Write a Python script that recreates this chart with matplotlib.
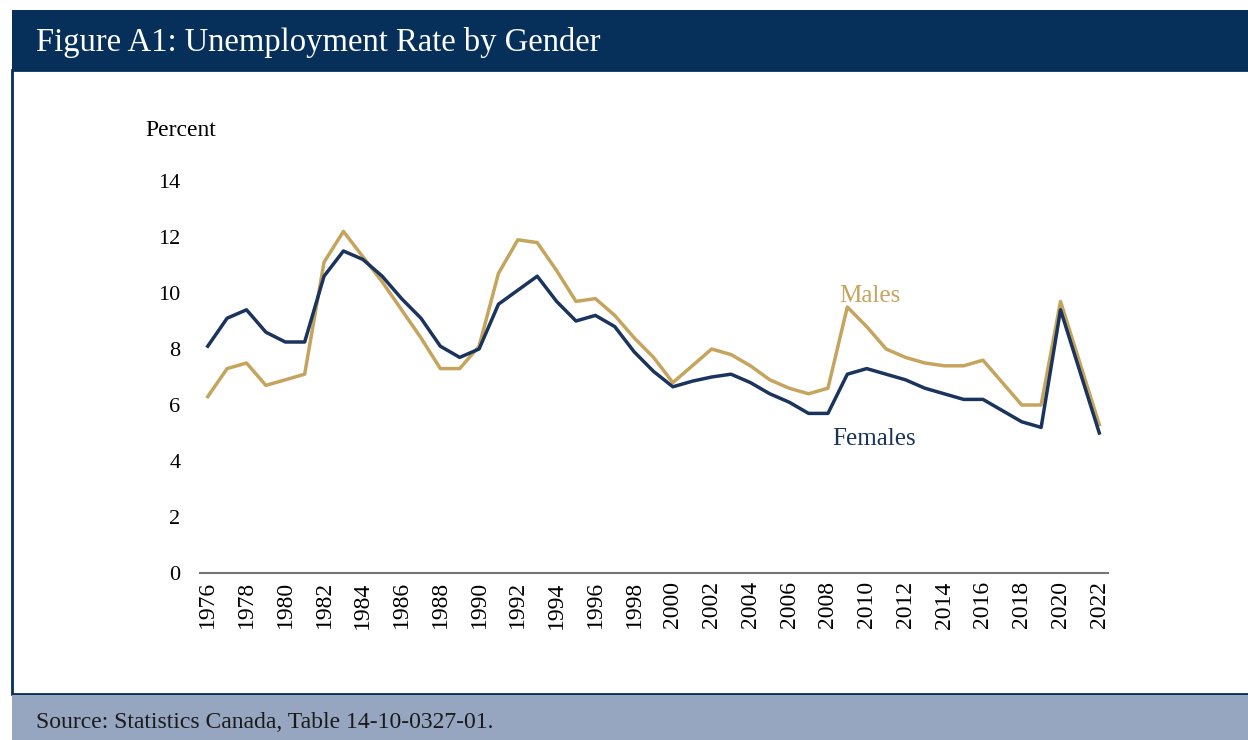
import matplotlib
matplotlib.use("Agg")
from matplotlib import pyplot as plt
from matplotlib.patches import Rectangle

years = list(range(1976, 2023))
females = [8.1, 9.1, 9.4, 8.6, 8.25, 8.25, 10.6, 11.5, 11.2, 10.6,
           9.8, 9.1, 8.1, 7.7, 8.0, 9.6, 10.1, 10.6, 9.7, 9.0,
           9.2, 8.8, 7.9, 7.2, 6.65, 6.85, 7.0, 7.1, 6.8, 6.4,
           6.1, 5.7, 5.7, 7.1, 7.3, 7.1, 6.9, 6.6, 6.4, 6.2,
           6.2, 5.8, 5.4, 5.2, 9.4, 7.2, 5.0]
males = [6.3, 7.3, 7.5, 6.7, 6.9, 7.1, 11.1, 12.2, 11.3, 10.4,
         9.4, 8.4, 7.3, 7.3, 8.1, 10.7, 11.9, 11.8, 10.8, 9.7,
         9.8, 9.2, 8.4, 7.7, 6.8, 7.4, 8.0, 7.8, 7.4, 6.9,
         6.6, 6.4, 6.6, 9.5, 8.8, 8.0, 7.7, 7.5, 7.4, 7.4,
         7.6, 6.8, 6.0, 6.0, 9.7, 7.5, 5.3]
yticks = [0, 2, 4, 6, 8, 10, 12, 14]
xticks = list(range(1976, 2023, 2))

navy = "#06305a"
gold = "#c5a45d"
fem_col = "#1b345d"
serif = "Liberation Serif"

fig = plt.figure(figsize=(12.48, 7.4), dpi=100)
W, H = 1248, 740

def box(x0, y0, x1, y1, **kw):
    fig.add_artist(Rectangle((x0 / W, 1 - y1 / H), (x1 - x0) / W, (y1 - y0) / H,
                             transform=fig.transFigure, zorder=-5, **kw))

# frame, header and source bands
box(12, 70, 1260, 694, facecolor="white", edgecolor=navy, linewidth=2)
box(12, 10, 1260, 70, facecolor=navy, edgecolor="none")
box(12, 695, 1260, 740, facecolor="#96a6c0", edgecolor="none")
fig.text(36 / W, 1 - 42 / H, "Figure A1: Unemployment Rate by Gender", color="white",
         fontsize=23.5, family=serif, va="center", ha="left")
fig.text(36 / W, 1 - 722 / H, "Source: Statistics Canada, Table 14-10-0327-01.",
         color="#1a1a1a", fontsize=17, family=serif, va="center", ha="left")

ax = fig.add_axes([200 / W, 1 - 573 / H, (1108 - 200) / W, (573 - 181) / H])
ax.set_zorder(5)
ax.plot(years, males, color=gold, linewidth=2.5)
ax.plot(years, females, color=fem_col, linewidth=2.5)
ax.set_xlim(1975.6, 2022.45)
ax.set_ylim(0, 14)
ax.set_yticks(yticks)
ax.set_xticks(xticks)
ax.set_xticklabels([str(y) for y in xticks], rotation=90, family=serif, fontsize=17)
ax.set_yticklabels([str(v) for v in yticks], family=serif, fontsize=16)
ax.tick_params(length=0, pad=14, axis="y")
ax.tick_params(length=0, pad=6, axis="x")
for s in ["top", "right", "left"]:
    ax.spines[s].set_visible(False)
ax.spines["bottom"].set_color("#777777")
ax.spines["bottom"].set_linewidth(1.5)
ax.patch.set_alpha(0)

fig.text(145 / W, 1 - 130 / H, "Percent", family=serif, fontsize=17, va="center", ha="left")
ax.text(2008.6, 9.9, "Males", color=gold, family=serif, fontsize=18, ha="left", va="center")
ax.text(2008.2, 4.8, "Females", color=fem_col, family=serif, fontsize=18, ha="left", va="center")

fig.savefig("out.png", dpi=100)
